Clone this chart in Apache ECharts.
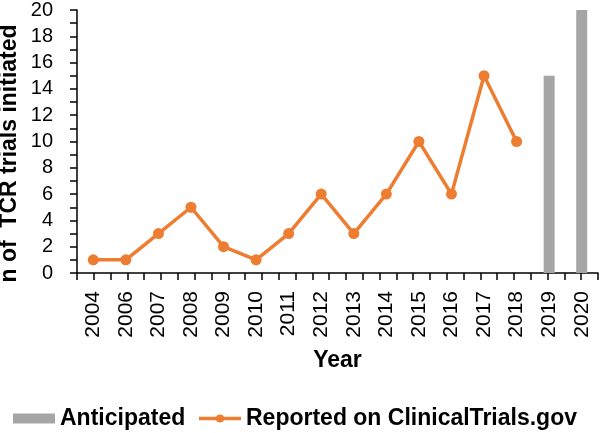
<!DOCTYPE html>
<html><head><meta charset="utf-8">
<script src="https://cdn.jsdelivr.net/npm/echarts@6/dist/echarts.min.js"></script>
<style>html,body{margin:0;padding:0;background:#fff}#c{width:600px;height:433px}</style>
</head><body><div id="c"></div>
<script>
const years = ['2004','2006','2007','2008','2009','2010','2011','2012','2013','2014','2015','2016','2017','2018','2019','2020'];
const reported = [1,1,3,5,2,1,3,6,3,6,10,6,15,10,null,null];
const anticipated = [null,null,null,null,null,null,null,null,null,null,null,null,null,null,15,20];
const yTicks = [0,2,4,6,8,10,12,14,16,18,20];

const font = '"Liberation Sans", Arial, sans-serif';
const chart = echarts.init(document.getElementById('c'));
const halfCats = [];
years.forEach(y => { halfCats.push(y + 'a'); halfCats.push(y + 'b'); });
chart.setOption({
  animation: false,
  grid: {left: 77, right: 2, top: 10, bottom: 160, containLabel: false, outerBoundsMode: 'none'},
  legend: {
    top: 407, left: 13, padding: 0, itemGap: 12, itemWidth: 42, itemHeight: 10,
    textStyle: {fontFamily: font, fontWeight: 'bold', fontSize: 23, color: '#000'},
    data: [{name: 'Anticipated', icon: 'rect'},
           {name: 'Reported on ClinicalTrials.gov', lineStyle: {width: 3.5, color: '#ED7D31'}}]
  },
  xAxis: [{
    type: 'category', data: years, boundaryGap: true,
    name: 'Year', nameLocation: 'middle', nameGap: 76, nameMoveOverlap: false,
    nameTextStyle: {fontFamily: font, fontWeight: 'bold', fontSize: 23, color: '#000'},
    axisLine: {lineStyle: {color: '#000', width: 1.5}},
    axisTick: {show: false},
    axisLabel: {rotate: 90, fontFamily: font, fontSize: 21, color: '#000', margin: 18, interval: 0}
  }, {
    type: 'category', data: halfCats, boundaryGap: false, position: 'bottom',
    axisLine: {show: false}, axisLabel: {show: false},
    axisTick: {show: true, interval: 0, length: 7, lineStyle: {color: '#000', width: 1.5}}
  }],
  yAxis: {
    type: 'value', min: 0, max: 20, interval: 2,
    name: 'n of  TCR trials initiated', nameLocation: 'middle', nameGap: 56, nameMoveOverlap: false,
    nameTextStyle: {fontFamily: font, fontWeight: 'bold', fontSize: 23, color: '#000', padding: [0, 24, 0, 0]},
    axisLine: {show: true, lineStyle: {color: '#000', width: 1.5}},
    axisTick: {show: true, length: 7, lineStyle: {color: '#000', width: 1.5}},
    minorTick: {show: true, splitNumber: 2, length: 7, lineStyle: {color: '#000', width: 1.5}},
    splitLine: {show: false},
    axisLabel: {fontFamily: font, fontSize: 20, color: '#000', margin: 24,
      formatter: v => yTicks.includes(v) ? String(v) : ''}
  },
  series: [{
    name: 'Anticipated', type: 'bar', data: anticipated, barWidth: 11,
    itemStyle: {color: '#A5A5A5'}
  }, {
    name: 'Reported on ClinicalTrials.gov', type: 'line', data: reported,
    symbol: 'circle', symbolSize: 11,
    lineStyle: {color: '#ED7D31', width: 3.5}, itemStyle: {color: '#ED7D31'}
  }]
});
</script></body></html>
